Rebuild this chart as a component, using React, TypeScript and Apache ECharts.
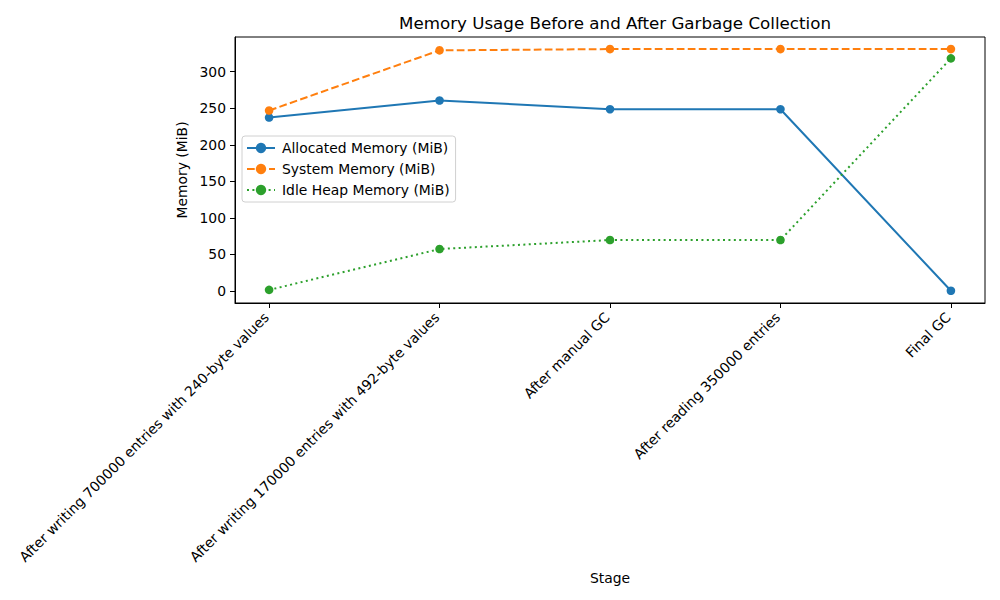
import React, { useEffect, useRef } from "react";
import * as echarts from "echarts";

const stages = [
  "After writing 700000 entries with 240-byte values",
  "After writing 170000 entries with 492-byte values",
  "After manual GC",
  "After reading 350000 entries",
  "Final GC",
];
const allocated = [237.3, 260.6, 248.7, 248.7, 0.2];
const systemMem = [246.9, 329.3, 331, 331, 331];
const idleHeap = [1.4, 57.3, 69.6, 69.6, 318.3];
const yTicks = [0, 50, 100, 150, 200, 250, 300];
const seriesNames = ["Allocated Memory (MiB)", "System Memory (MiB)", "Idle Heap Memory (MiB)"];

const FONT = "DejaVu Sans";
const FS = 13.9;

export default function App() {
  const ref = useRef<HTMLDivElement>(null);
  useEffect(() => {
    const chart = echarts.init(ref.current!, null, { renderer: "svg" });
    const toPts = (arr: number[]) => arr.map((v, i) => [i, v]);
    const mk = (name: string, data: number[], color: string, type: any) => ({
      name,
      type: "line",
      data: toPts(data),
      symbol: "circle",
      symbolSize: 8.6,
      itemStyle: { color },
      lineStyle: { color, width: 2, type },
    });
    chart.setOption({
      animation: false,
      backgroundColor: "#fff",
      textStyle: { fontFamily: FONT },
      title: {
        text: "Memory Usage Before and After Garbage Collection",
        left: 610,
        textAlign: "center",
        top: 9,
        textStyle: { fontFamily: FONT, fontSize: 16.7, fontWeight: "normal", color: "#000" },
      },
      legend: {
        orient: "vertical",
        left: 242,
        top: 136,
        padding: [5, 6, 5, 4],
        itemGap: 7,
        itemWidth: 28,
        itemHeight: 13,
        backgroundColor: "#fff",
        borderColor: "#d0d0d0",
        borderWidth: 1,
        borderRadius: 3,
        textStyle: { fontFamily: FONT, fontSize: FS, color: "#000", padding: [0, 0, 0, 2] },
        data: seriesNames,
      },
      grid: {
        left: 235,
        right: 15,
        top: 37,
        bottom: 297,
        show: true,
        borderColor: "#000",
        borderWidth: 1,
        backgroundColor: "transparent",
      },
      xAxis: {
        type: "value",
        min: -0.2,
        max: 4.2,
        name: "Stage",
        nameLocation: "middle",
        nameGap: 268,
        nameTextStyle: { fontFamily: FONT, fontSize: FS, color: "#000" },
        axisLine: { show: true, onZero: false, lineStyle: { color: "#000", width: 1 } },
        axisTick: { show: true, length: 5, lineStyle: { color: "#000" }, customValues: [0, 1, 2, 3, 4] },
        axisLabel: {
          customValues: [0, 1, 2, 3, 4],
          rotate: 45,
          margin: 9,
          fontFamily: FONT,
          fontSize: FS,
          color: "#000",
          padding: [0, 4, 0, 0],
          formatter: (v: number) => stages[Math.round(v)] ?? "",
        },
        splitLine: { show: false },
      },
      yAxis: {
        type: "value",
        min: -16.55,
        max: 347.55,
        name: "Memory (MiB)",
        nameLocation: "middle",
        nameGap: 45,
        nameTextStyle: { fontFamily: FONT, fontSize: FS, color: "#000" },
        axisLine: { show: true, onZero: false, lineStyle: { color: "#000", width: 1 } },
        axisTick: { show: true, length: 5, lineStyle: { color: "#000" }, customValues: yTicks },
        axisLabel: {
          customValues: yTicks,
          margin: 9,
          fontFamily: FONT,
          fontSize: FS,
          color: "#000",
        },
        splitLine: { show: false },
      },
      series: [
        mk(seriesNames[0], allocated, "#1f77b4", "solid"),
        mk(seriesNames[1], systemMem, "#ff7f0e", [7.7, 3.3]),
        mk(seriesNames[2], idleHeap, "#2ca02c", [2, 3.4]),
      ],
    });
    return () => chart.dispose();
  }, []);
  return <div ref={ref} style={{ width: 1000, height: 600, position: "absolute", left: 0, top: 0 }} />;
}
